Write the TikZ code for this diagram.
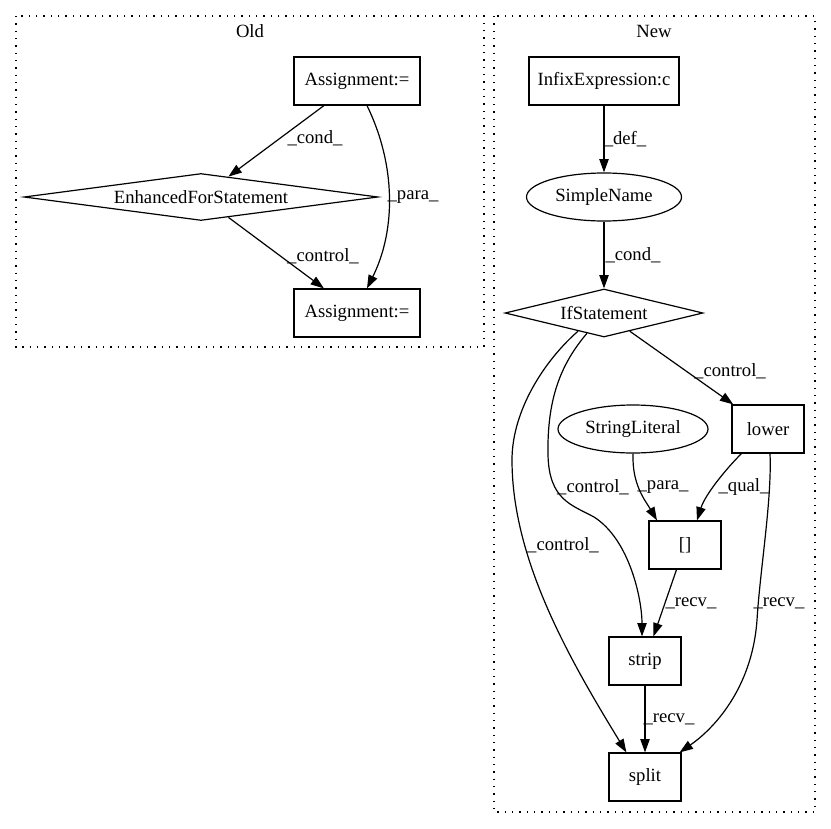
\documentclass[tikz,border=0pt]{standalone}
\usepackage{fontspec}
\setmainfont{Liberation Serif}
\usetikzlibrary{shapes.geometric,arrows.meta,calc}
\begin{document}
\begin{tikzpicture}[x=0.75pt,y=-0.75pt,
  font=\fontsize{14pt}{16pt}\selectfont,
  every node/.style={inner sep=0pt},
  cluster/.style={draw, line width=0.9pt, dash pattern=on 0.9pt off 4.6pt},
  box/.style={draw, rectangle, line width=0.9pt, minimum height=36pt},
  oval/.style={draw, ellipse, line width=0.9pt, minimum height=36pt},
  dia/.style={draw, diamond, line width=0.9pt},
  arr/.style={line width=0.9pt, -{Triangle[length=10pt,width=7pt]}},
  lbl/.style={anchor=center}
]
\useasboundingbox (0,0) rectangle (831,828);

% clusters
\draw[cluster] (16,16) rectangle (484,347);
\draw[cluster] (494,16) rectangle (815,812);
\node[lbl] (oldt) at (250,31) {Old};
\node[lbl] (newt) at (654,31) {New};

% Old nodes
\node[box, minimum width=94.5pt] (a1) at (357,81) {Assignment:=};
\node[dia, aspect=7.5, minimum width=265.5pt, minimum height=35.25pt] (efs) at (201,197) {EnhancedForStatement};
\node[box, minimum width=94.5pt] (a2) at (357,313) {Assignment:=};

% Old edges
\draw[arr] (a1) -- (efs);
\draw[arr] (efs) -- (a2);
\draw[arr] ([xshift=7.5pt]a1.south) .. controls (396,165) and (396,230) .. ([xshift=7.5pt]a2.north);
\node[lbl] (l1) at (315,138) {\_cond\_};
\node[lbl] (l2) at (413,197) {\_para\_};
\node[lbl] (l3) at (323,256) {\_control\_};

% New nodes
\node[box, minimum width=112.5pt] (ie) at (604,81) {InfixExpression:c};
\node[oval, minimum width=116.25pt] (sn) at (604,197) {SimpleName};
\node[dia, aspect=4.1, minimum width=148.5pt, minimum height=36pt] (ifs) at (604,313) {IfStatement};
\node[oval, minimum width=112.5pt] (sl) at (633,429) {StringLiteral};
\node[box, minimum width=54pt] (lower) at (768,429) {lower};
\node[box, minimum width=54pt] (br) at (685,545) {[]};
\node[box, minimum width=54pt] (strip) at (645,661) {strip};
\node[box, minimum width=54pt] (split) at (645,777) {split};

% New edges
\draw[arr] (ie) -- (sn);
\draw[arr] (sn) -- (ifs);
\draw[arr] (ifs) -- (lower);
\draw[arr] (ifs.230) .. controls (560,365) and (547,400) .. (548,455)
  .. controls (549,500) and (572,505) .. (594,517)
  .. controls (630,540) and (642,600) .. ([xshift=-2.25pt]strip.north);
\draw[arr] (ifs.215) .. controls (545,360) and (512,410) .. (512,460)
  .. controls (512,560) and (570,660) .. ([xshift=13.5pt]split.north west);
\draw[arr] (sl.south) .. controls (632,485) and (645,500) .. ([xshift=-21pt]br.north);
\draw[arr] ([xshift=7.5pt]lower.south west) .. controls (725,470) and (705,495) .. ([xshift=9pt]br.north);
\draw[arr] ([xshift=1.5pt]lower.south) .. controls (772,500) and (760,570) .. (757,620)
  .. controls (752,690) and (712,730) .. ([xshift=-1.5pt]split.north east);
\draw[arr] (br) -- (strip);
\draw[arr] (strip) -- (split);

\node[lbl] (l4) at (625,139) {\_def\_};
\node[lbl] (l5) at (633,255) {\_cond\_};
\node[lbl] (l6) at (730,371) {\_control\_};
\node[lbl] (l7) at (593,487) {\_control\_};
\node[lbl] (l8) at (663,487) {\_para\_};
\node[lbl] (l9) at (744,487) {\_qual\_};
\node[lbl] (l10) at (563,545) {\_control\_};
\node[lbl] (l11) at (691,603) {\_recv\_};
\node[lbl] (l12) at (779,603) {\_recv\_};
\node[lbl] (l13) at (669,719) {\_recv\_};
\end{tikzpicture}
\end{document}
